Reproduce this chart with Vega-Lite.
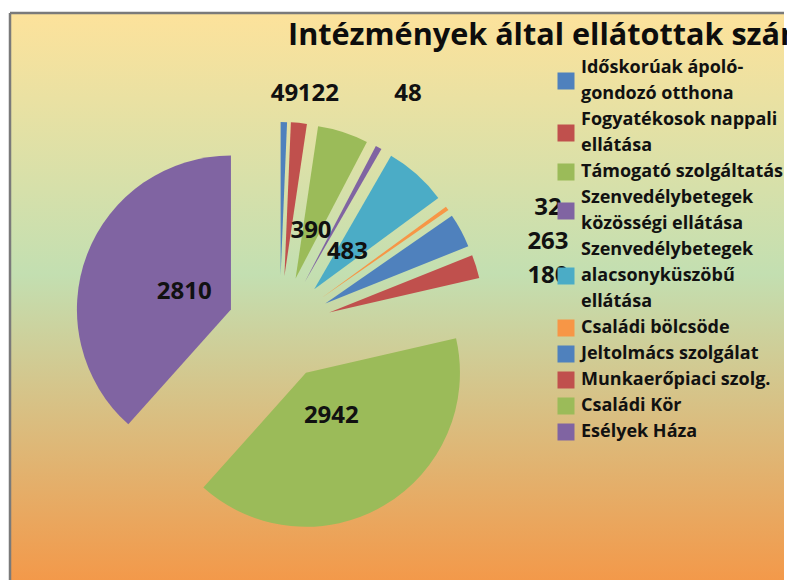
{
  "$schema": "https://vega.github.io/schema/vega-lite/v6.json",
  "width": 774,
  "height": 567,
  "padding": {"left": 10, "top": 13, "right": 3, "bottom": 0},
  "autosize": {"type": "none"},
  "background": "white",
  "view": {
    "fill": {"gradient": "linear", "x1": 0, "y1": 0, "x2": 0, "y2": 1,
      "stops": [
        {"offset": 0, "color": "#FDE29B"},
        {"offset": 0.46, "color": "#C3DFB1"},
        {"offset": 1, "color": "#F3994A"}
      ]},
    "stroke": "#7a7a7a",
    "strokeWidth": 2.5,
    "strokeDash": [774, 1341, 567, 0]
  },
  "title": {
    "text": "Intézmények által ellátottak száma",
    "anchor": "start",
    "frame": "group",
    "orient": "top",
    "offset": 0,
    "dx": 278,
    "dy": 63,
    "baseline": "alphabetic",
    "font": "Open Sans",
    "fontSize": 30.6,
    "fontWeight": "bold",
    "color": "#0d0d0d"
  },
  "data": {
    "values": [
      {"name": "Időskorúak ápoló-gondozó otthona", "value": 49},
      {"name": "Fogyatékosok nappali ellátása", "value": 122},
      {"name": "Támogató szolgáltatás", "value": 390},
      {"name": "Szenvedélybetegek közösségi ellátása", "value": 48},
      {"name": "Szenvedélybetegek alacsonyküszöbű ellátása", "value": 483},
      {"name": "Családi bölcsöde", "value": 32},
      {"name": "Jeltolmács szolgálat", "value": 263},
      {"name": "Munkaerőpiaci szolg.", "value": 180},
      {"name": "Családi Kör", "value": 2942},
      {"name": "Esélyek Háza", "value": 2810}
    ]
  },
  "transform": [
    {"joinaggregate": [{"op": "sum", "field": "value", "as": "total"}]},
    {"window": [{"op": "sum", "field": "value", "as": "cum"}], "frame": [null, 0]},
    {"calculate": "(datum.cum - datum.value) / datum.total * 2 * PI", "as": "a0"},
    {"calculate": "datum.cum / datum.total * 2 * PI", "as": "a1"},
    {"calculate": "(datum.a0 + datum.a1) / 2", "as": "mid"},
    {"calculate": "sin(datum.mid)", "as": "ex"},
    {"calculate": "cos(datum.mid)", "as": "ey"},
    {"calculate": "datum.value / datum.total >= 0.045 ? 'in' : (datum.mid < PI / 4 ? 'top' : 'right')", "as": "grp"},
    {"calculate": "datum.grp == 'top' ? datum.ex * 4.5 / datum.ey : (datum.grp == 'right' ? -datum.ey * 3.96 : 0)", "as": "q"},
    {"window": [{"op": "lag", "field": "q", "as": "qp"}], "groupby": ["grp"]},
    {"calculate": "isValid(datum.qp) ? max(datum.q, datum.qp + 0.654) : datum.q", "as": "q1"},
    {"window": [{"op": "lag", "field": "q1", "as": "q1p"}], "groupby": ["grp"]},
    {"calculate": "isValid(datum.q1p) ? max(datum.q, datum.q1p + 0.654) : datum.q", "as": "q2"},
    {"calculate": "datum.grp == 'in' ? 1.96 * datum.ex : (datum.grp == 'top' ? datum.q2 : 5.163)", "as": "lx"},
    {"calculate": "datum.grp == 'in' ? 1.96 * datum.ey : (datum.grp == 'top' ? 4.5 : -datum.q2)", "as": "ly"}
  ],
  "layer": [
    {
      "mark": {"type": "arc", "radius": 154},
      "encoding": {
        "theta": {"field": "a0", "type": "quantitative", "scale": null, "stack": null},
        "theta2": {"field": "a1"},
        "x": {"field": "ex", "type": "quantitative", "axis": null,
          "scale": {"domain": [-5.1827, 9.7019], "nice": false, "zero": false}},
        "y": {"field": "ey", "type": "quantitative", "axis": null,
          "scale": {"domain": [-4.8462, 6.0577], "nice": false, "zero": false}},
        "color": {
          "field": "name",
          "type": "nominal",
          "scale": {
            "domain": [
              "Időskorúak ápoló-gondozó otthona",
              "Fogyatékosok nappali ellátása",
              "Támogató szolgáltatás",
              "Szenvedélybetegek közösségi ellátása",
              "Szenvedélybetegek alacsonyküszöbű ellátása",
              "Családi bölcsöde",
              "Jeltolmács szolgálat",
              "Munkaerőpiaci szolg.",
              "Családi Kör",
              "Esélyek Háza"
            ],
            "range": ["#4F81BD", "#C0504D", "#9BBB59", "#8064A2", "#4BACC6", "#F79646", "#4F81BD", "#C0504D", "#9BBB59", "#8064A2"]
          },
          "legend": {
            "orient": "none",
            "legendX": 547,
            "legendY": 59,
            "title": null,
            "padding": 0,
            "symbolType": "square",
            "symbolSize": 289,
            "symbolStrokeWidth": 0,
            "symbolOpacity": 1,
            "labelFont": "Open Sans",
            "labelFontSize": 18,
            "labelFontWeight": "bold",
            "labelColor": "#111111",
            "labelOffset": 6,
            "labelLimit": 400,
            "rowPadding": 8,
            "labelExpr": "datum.label == 'Időskorúak ápoló-gondozó otthona' ? ['Időskorúak ápoló-', 'gondozó otthona'] : datum.label == 'Fogyatékosok nappali ellátása' ? ['Fogyatékosok nappali', 'ellátása'] : datum.label == 'Szenvedélybetegek közösségi ellátása' ? ['Szenvedélybetegek', 'közösségi ellátása'] : datum.label == 'Szenvedélybetegek alacsonyküszöbű ellátása' ? ['Szenvedélybetegek', 'alacsonyküszöbű', 'ellátása'] : datum.label",
            "encoding": {
              "labels": {
                "dy": {"value": {"expr": "datum.value == 'Szenvedélybetegek alacsonyküszöbű ellátása' ? -26 : (datum.value == 'Időskorúak ápoló-gondozó otthona' || datum.value == 'Fogyatékosok nappali ellátása' || datum.value == 'Szenvedélybetegek közösségi ellátása') ? -13 : 0"}}
              }
            }
          }
        }
      }
    },
    {
      "mark": {"type": "text", "font": "Open Sans", "fontSize": 24, "fontWeight": "bold", "color": "#111111", "align": "center", "baseline": "middle"},
      "encoding": {
        "x": {"field": "lx", "type": "quantitative", "axis": null,
          "scale": {"domain": [-5.1827, 9.7019], "nice": false, "zero": false}},
        "y": {"field": "ly", "type": "quantitative", "axis": null,
          "scale": {"domain": [-4.8462, 6.0577], "nice": false, "zero": false}},
        "text": {"field": "value", "type": "quantitative"}
      }
    }
  ],
  "config": {
    "style": {"guide-label": {"lineHeight": 26}}
  }
}
